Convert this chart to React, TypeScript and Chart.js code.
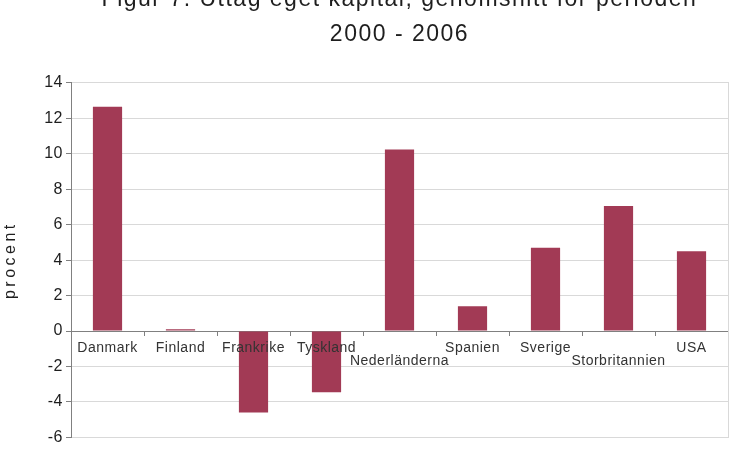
import { useEffect, useRef } from 'react';
import { Chart, registerables } from 'chart.js';

Chart.register(...registerables);

const categories = ['Danmark', 'Finland', 'Frankrike', 'Tyskland', 'Nederländerna', 'Spanien', 'Sverige', 'Storbritannien', 'USA'];
const values = [12.65, 0.1, -4.6, -3.45, 10.25, 1.4, 4.7, 7.05, 4.5];
const titleLines = ['Figur 7. Uttag eget kapital, genomsnitt för perioden', '2000 - 2006'];
const yAxisTitle = 'procent';
const yMin = -6;
const yMax = 14;
const yStep = 2;

const FONT = "'Liberation Sans', Arial, sans-serif";

const spacingPlugin = {
  id: 'spacingAndYTitle',
  beforeDraw(chart: any) {
    chart.ctx.letterSpacing = '1.5px';
  },
  afterDatasetsDraw(chart: any) {
    chart.ctx.letterSpacing = '0.5px';
  },
  afterDraw(chart: any) {
    const { ctx, chartArea } = chart;
    ctx.save();
    ctx.letterSpacing = '3.5px';
    ctx.font = `16px ${FONT}`;
    ctx.fillStyle = '#1e1e1e';
    ctx.translate(11, (chartArea.top + chartArea.bottom) / 2);
    ctx.rotate(-Math.PI / 2);
    ctx.textAlign = 'center';
    ctx.textBaseline = 'middle';
    ctx.fillText(yAxisTitle, 0, 0);
    ctx.restore();
    ctx.letterSpacing = '0px';
  },
};

export default function App() {
  const canvasRef = useRef<HTMLCanvasElement | null>(null);

  useEffect(() => {
    if (!canvasRef.current) return;
    const chart = new Chart(canvasRef.current, {
      type: 'bar',
      data: {
        labels: categories,
        datasets: [
          {
            data: values,
            backgroundColor: '#A23A55',
            borderWidth: 0,
            barPercentage: 0.4,
            categoryPercentage: 1,
          },
        ],
      },
      options: {
        animation: false,
        responsive: false,
        devicePixelRatio: 1,
        layout: { padding: { left: 0, right: 7, top: 0, bottom: 10 } },
        plugins: {
          legend: { display: false },
          tooltip: { enabled: false },
          title: {
            display: true,
            fullSize: false,
            text: titleLines,
            color: '#1e1e1e',
            font: { family: FONT, size: 23, weight: 'normal', lineHeight: 1.52 },
            padding: { top: -17.5, bottom: 30.5 },
          },
        },
        scales: {
          x: {
            type: 'category',
            position: { y: 0 } as any,
            offset: true,
            grid: {
              display: true,
              drawOnChartArea: false,
              drawTicks: true,
              tickLength: 4,
              tickColor: '#808080',
              offset: true,
            },
            border: { display: true, color: '#808080', width: 1 },
            ticks: {
              z: 1,
              autoSkip: false,
              maxRotation: 0,
              minRotation: 0,
              padding: 6,
              color: '#333333',
              font: { family: FONT, size: 14, lineHeight: 0.95 },
              callback: function (this: any, v: any, i: number) {
                const l = this.getLabelForValue(v);
                return i === 4 || i === 7 ? ['', l] : l;
              },
            },
          },
          y: {
            min: yMin,
            max: yMax,
            ticks: {
              stepSize: yStep,
              z: 2,
              padding: 3,
              color: '#1e1e1e',
              font: { family: FONT, size: 16 },
            },
            grid: { color: '#d9d9d9', tickColor: '#808080', tickLength: 5, drawTicks: true },
            border: { color: '#808080' },
            afterFit(scale: any) {
              scale.width = 71;
            },
          },
          y2: {
            position: 'right',
            display: true,
            ticks: { display: false },
            grid: { display: false, drawTicks: false },
            border: { display: true, color: '#d9d9d9' },
            afterFit(scale: any) {
              scale.width = 0;
            },
          },
        },
      },
      plugins: [spacingPlugin],
    });
    return () => chart.destroy();
  }, []);

  return (
    <div style={{ position: 'fixed', left: 0, top: 0, width: 735, height: 450, background: '#ffffff' }}>
      <canvas ref={canvasRef} width={735} height={450} />
    </div>
  );
}
